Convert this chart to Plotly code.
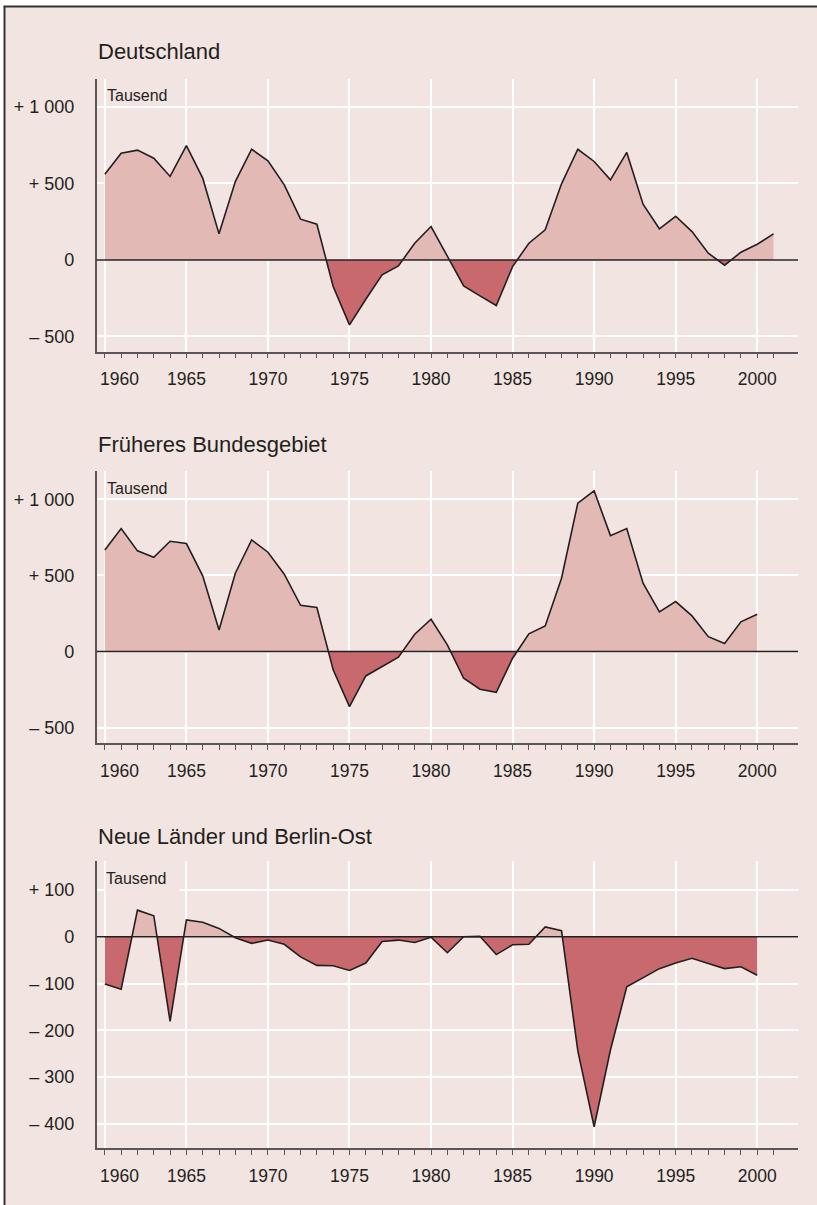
import plotly.graph_objects as go

# ---------------- data (Tausend) ----------------
years_de = list(range(1960, 2002))
deutschland = [560, 697, 717, 664, 545, 747, 534, 170, 512, 723,
               647, 490, 266, 233, -174, -425, -257, -98, -39, 109,
               218, 20, -170, -235, -298, -44, 109, 196, 497, 723,
               643, 523, 702, 364, 203, 285, 185, 44, -35, 50,
               102, 170]

years_fb = list(range(1960, 2001))
frueheres_bg = [667, 807, 661, 619, 724, 709, 497, 142, 514, 733,
                652, 508, 304, 289, -120, -361, -160, -98, -37, 114,
                212, 44, -175, -247, -267, -44, 116, 168, 481, 974,
                1055, 761, 807, 449, 260, 328, 234, 98, 53, 195,
                245]

years_nl = list(range(1960, 2001))
neue_laender = [-101, -112, 57, 45, -181, 36, 31, 18, -2, -14,
                -7, -16, -43, -61, -62, -72, -56, -10, -7, -12,
                -1, -34, 0, 1, -38, -17, -16, 21, 13, -244,
                -406, -242, -107, -87, -68, -56, -46, -57, -68, -64,
                -82]

titles = ["Deutschland", "Früheres Bundesgebiet", "Neue Länder und Berlin-Ost"]
unit_label = "Tausend"

x_tickvals = list(range(1960, 2001, 5))
# first label is nudged right so it starts at the axis, as in the original
x_ticktext = ["\u00a0" * 6 + "1960"] + [str(v) for v in x_tickvals[1:]]
x_minor = list(range(1960, 2002))

y_tick_big = [-500, 0, 500, 1000]
y_text_big = ["– 500", "0", "+ 500", "+ 1 000"]
y_tick_small = [-400, -300, -200, -100, 0, 100]
y_text_small = ["– 400", "– 300", "– 200", "– 100", "0", "+ 100"]

# ---------------- style ----------------
W, H = 817, 1205
BG = "#f2e4e0"
POS = "#e3b9b6"
NEG = "#c8696e"
LINE = "#231f20"
AXIS = "#5a5556"
FONT = "Liberation Sans, Arial, Helvetica, sans-serif"
NARROW = "Liberation Sans Narrow, Arial Narrow, Liberation Sans, sans-serif"


def px_x(p):
    return p / W


def px_y(p):
    return 1 - p / H


panels = [
    dict(years=years_de, vals=deutschland, rng=[-600, 1180],
         top=79.3, bottom=351.7, tv=y_tick_big, tt=y_text_big,
         title_y=51.5, unit_y=96, unit_box=False),
    dict(years=years_fb, vals=frueheres_bg, rng=[-602, 1185],
         top=471, bottom=743.3, tv=y_tick_big, tt=y_text_big,
         title_y=444.5, unit_y=488, unit_box=False),
    dict(years=years_nl, vals=neue_laender, rng=[-452, 162],
         top=861, bottom=1148.3, tv=y_tick_small, tt=y_text_small,
         title_y=836.5, unit_y=878, unit_box=True),
]


def split_sign(xs, ys):
    """Insert zero crossings so positive and negative parts can be filled separately."""
    ex, ey = [xs[0]], [ys[0]]
    for i in range(1, len(xs)):
        x0, y0, x1, y1 = xs[i - 1], ys[i - 1], xs[i], ys[i]
        if (y0 > 0 and y1 < 0) or (y0 < 0 and y1 > 0):
            xc = x0 + (x1 - x0) * (y0 / (y0 - y1))
            ex.append(xc)
            ey.append(0)
        ex.append(x1)
        ey.append(y1)
    pos = [max(v, 0) for v in ey]
    neg = [min(v, 0) for v in ey]
    return ex, pos, neg


fig = go.Figure()
layout = dict(
    width=W, height=H,
    margin=dict(l=0, r=0, t=0, b=0),
    paper_bgcolor=BG,
    plot_bgcolor=BG,
    showlegend=False,
    template="none",
    font=dict(family=FONT, color=LINE, size=17),
)
shapes = []
annotations = []

x_dom = [px_x(96.7), px_x(798)]

for i, p in enumerate(panels):
    n = "" if i == 0 else str(i + 1)
    xr, yr = "x" + n, "y" + n
    ex, pos, neg = split_sign(p["years"], p["vals"])
    fig.add_trace(go.Scatter(x=ex, y=pos, mode="lines", line=dict(width=0),
                             fill="tozeroy", fillcolor=POS, hoverinfo="skip",
                             xaxis=xr, yaxis=yr))
    fig.add_trace(go.Scatter(x=ex, y=neg, mode="lines", line=dict(width=0),
                             fill="tozeroy", fillcolor=NEG, hoverinfo="skip",
                             xaxis=xr, yaxis=yr))
    fig.add_trace(go.Scatter(x=p["years"], y=p["vals"], mode="lines",
                             line=dict(color=LINE, width=1.6),
                             xaxis=xr, yaxis=yr))

    layout["xaxis" + n] = dict(
        domain=x_dom, anchor=yr, range=[1959.5, 2002.5],
        showline=True, linecolor=AXIS, linewidth=1.5,
        tickmode="array", tickvals=x_tickvals, ticktext=x_ticktext,
        ticks="outside", ticklen=5, tickwidth=1, tickcolor=AXIS,
        showgrid=True, gridcolor="white", gridwidth=2,
        zeroline=False, automargin=False, ticklabelstandoff=6,
        tickfont=dict(size=17.5, family=FONT, color=LINE),
        minor=dict(tickmode="array", tickvals=x_minor, ticks="outside",
                   ticklen=5, tickwidth=1, tickcolor=AXIS, showgrid=False),
    )
    layout["yaxis" + n] = dict(
        domain=[px_y(p["bottom"]), px_y(p["top"])], anchor=xr, range=p["rng"],
        showline=True, linecolor=AXIS, linewidth=1.5,
        tickmode="array", tickvals=p["tv"], ticktext=p["tt"], ticks="",
        showgrid=True, gridcolor="white", gridwidth=2,
        zeroline=False, automargin=False, ticklabelstandoff=17,
        tickfont=dict(size=18, family=FONT, color=LINE),
    )
    # zero line across the panel, above the fills
    shapes.append(dict(type="line", xref=xr + " domain", yref=yr,
                       x0=0, x1=1, y0=0, y1=0,
                       line=dict(color=LINE, width=1.5), layer="above"))

    annotations.append(dict(text=titles[i], xref="paper", yref="paper",
                            x=px_x(95.5), y=px_y(p["title_y"]),
                            xanchor="left", yanchor="middle", showarrow=False,
                            font=dict(size=22, family=FONT, color=LINE)))
    ann = dict(text=unit_label, xref="paper", yref="paper",
               x=px_x(105), y=px_y(p["unit_y"]),
               xanchor="left", yanchor="middle", showarrow=False,
               font=dict(size=16, family=NARROW, color=LINE))
    if p["unit_box"]:
        ann.update(bgcolor=BG, width=73, height=30, align="left", borderpad=0)
    annotations.append(ann)

# white page margin above and left of the framed panel, plus the frame lines
shapes.insert(0, dict(type="rect", xref="paper", yref="paper",
                      x0=0, x1=1, y0=px_y(6.5), y1=1,
                      fillcolor="white", line=dict(width=0), layer="below"))
shapes.insert(0, dict(type="rect", xref="paper", yref="paper",
                      x0=0, x1=px_x(4.5), y0=0, y1=1,
                      fillcolor="white", line=dict(width=0), layer="below"))
shapes.append(dict(type="line", xref="paper", yref="paper",
                   x0=px_x(3.5), x1=1, y0=px_y(6.5), y1=px_y(6.5),
                   line=dict(color="#333", width=2), layer="above"))
shapes.append(dict(type="line", xref="paper", yref="paper",
                   x0=px_x(4.5), x1=px_x(4.5), y0=0, y1=px_y(6.5),
                   line=dict(color="#333", width=2), layer="above"))

layout["shapes"] = shapes
layout["annotations"] = annotations
fig.update_layout(**layout)

fig.write_html(
    "out.html",
    config={"displayModeBar": False},
    post_script=(
        "document.documentElement.style.overflow='hidden';"
        "document.body.style.margin='0';"
        "document.body.style.overflow='hidden';"
    ),
)
